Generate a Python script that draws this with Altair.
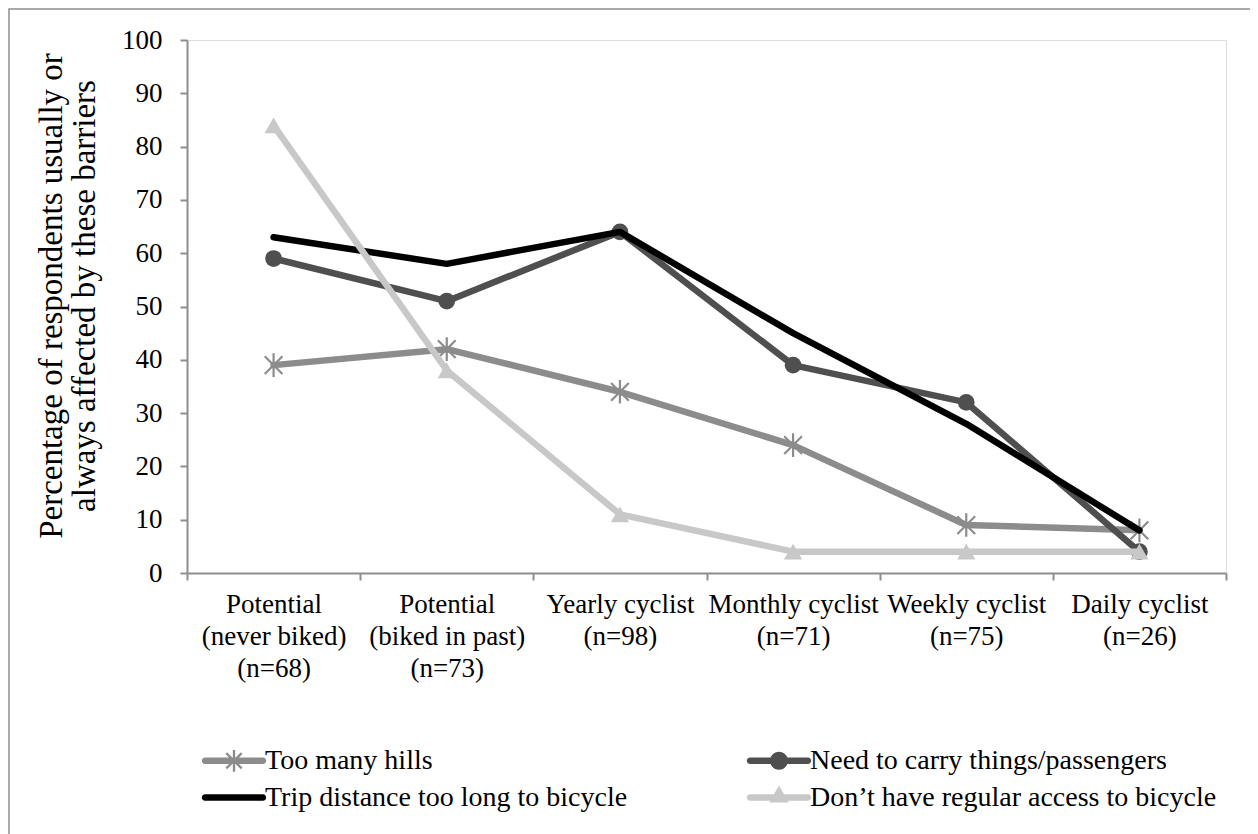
import math
import altair as alt
import pandas as pd

# ---- data -------------------------------------------------------------
categories = [
    "Potential\n(never biked)\n(n=68)",
    "Potential\n(biked in past)\n(n=73)",
    "Yearly cyclist\n(n=98)",
    "Monthly cyclist\n(n=71)",
    "Weekly cyclist\n(n=75)",
    "Daily cyclist\n(n=26)",
]
series = [
    "Too many hills",
    "Need to carry things/passengers",
    "Trip distance too long to bicycle",
    "Don\u2019t have regular access to bicycle",
]
hills = [39, 42, 34, 24, 9, 8]
carry = [59, 51, 64, 39, 32, 4]
trip = [63, 58, 64, 45, 28, 8]
access = [84, 38, 11, 4, 4, 4]
y_ticks = list(range(0, 101, 10))
y_title = ["Percentage of respondents usually or", "always affected by these barriers"]

values = [hills, carry, trip, access]
rows = []
for s, vals in zip(series, values):
    for c, v in zip(categories, vals):
        rows.append({"category": c, "series": s, "value": v})
df = pd.DataFrame(rows)

# ---- styles -----------------------------------------------------------
colors = ["#8c8c8c", "#4f4f4f", "#000000", "#c8c8c8"]
FONT = "Liberation Serif"
AXIS_GRAY = "#8e8e8e"


def poly(pts):
    return "M" + " L".join(f"{x:.3f},{y:.3f}" for x, y in pts) + " Z"


def bar(cx, cy, L, w, ang):
    c, s = math.cos(ang), math.sin(ang)
    d = (c, s)
    n = (-s, c)
    return poly([
        (cx - L * d[0] - w * n[0], cy - L * d[1] - w * n[1]),
        (cx + L * d[0] - w * n[0], cy + L * d[1] - w * n[1]),
        (cx + L * d[0] + w * n[0], cy + L * d[1] + w * n[1]),
        (cx - L * d[0] + w * n[0], cy - L * d[1] + w * n[1]),
    ])


def circ(cx, cy, r):
    return (f"M{cx + r:.3f},{cy:.3f} A{r:.3f},{r:.3f} 0 1,1 {cx - r:.3f},{cy:.3f} "
            f"A{r:.3f},{r:.3f} 0 1,1 {cx + r:.3f},{cy:.3f} Z")


def tri(cx, cy, r):
    return poly([(cx, cy - r), (cx + 0.866 * r, cy + 0.5 * r), (cx - 0.866 * r, cy + 0.5 * r)])


# legend symbols: a line segment from -1 to 3 with marker in the middle (unit = 14.5px)
LW = 0.22
base_line = bar(1, 0, 2, LW, 0) + " " + circ(-1, 0, LW) + " " + circ(3, 0, LW)
star_leg = " ".join(bar(1, 0, 0.75, 0.08, a) for a in (math.pi / 2, math.pi / 4, -math.pi / 4))
legend_paths = [
    base_line + " " + star_leg,
    base_line + " " + circ(1, 0, 0.62),
    base_line,
    base_line + " " + tri(1, -0.05, 0.78),
]

star_path = "M0,-1 L0,1 M-0.75,-0.75 L0.75,0.75 M-0.75,0.75 L0.75,-0.75"
markers = [
    dict(shape=star_path, filled=False, size=560, strokeWidth=2.2),
    dict(shape="circle", filled=True, size=280),
    None,
    dict(shape="triangle-up", filled=True, size=330),
]

W, H = 1039, 533

x_enc = alt.X(
    "category:N",
    sort=categories,
    bandPosition=0.5,
    scale=alt.Scale(type="band", paddingInner=0, paddingOuter=0),
    axis=alt.Axis(
        title=None,
        labelAngle=0,
        labelAlign="center",
        labelBaseline="top",
        labelExpr="split(datum.label, '\\n')",
        labelFont=FONT,
        labelFontSize=27,
        labelLineHeight=32,
        labelColor="black",
        labelPadding=11,
        labelLimit=400,
        tickBand="extent",
        tickSize=7,
        tickColor=AXIS_GRAY,
        tickWidth=2,
        domainColor=AXIS_GRAY,
        domainWidth=2,
    ),
)
y_enc = alt.Y(
    "value:Q",
    scale=alt.Scale(domain=[0, 100], nice=False),
    axis=alt.Axis(
        title=None,
        values=y_ticks,
        grid=False,
        labelFont=FONT,
        labelFontSize=27,
        labelColor="black",
        labelPadding=18,
        tickSize=7,
        tickColor=AXIS_GRAY,
        tickWidth=2,
        domainColor=AXIS_GRAY,
        domainWidth=2,
    ),
)

frame = alt.Chart(alt.Data(values=[{"k": 0}])).mark_rect(
    filled=False, stroke=AXIS_GRAY, strokeWidth=1.5
).encode(
    x=alt.value(-178), x2=alt.value(1066), y=alt.value(-31), y2=alt.value(820)
)

title_layer = alt.Chart(alt.Data(values=[{"t": y_title}])).mark_text(
    font=FONT,
    fontSize=33,
    angle=270,
    align="center",
    baseline="middle",
    lineHeight=33,
    color="black",
).encode(text="t:N", x=alt.value(-135), y=alt.value(256))

layers = [frame, title_layer]
for i, s in enumerate(series):
    base = alt.Chart(df).transform_filter(alt.datum.series == s)
    layers.append(
        base.mark_line(color=colors[i], strokeWidth=6.5, strokeJoin="round", strokeCap="round")
        .encode(x=x_enc, y=y_enc)
    )
    if markers[i]:
        m = markers[i]
        layers.append(base.mark_point(color=colors[i], opacity=1, **m).encode(x=x_enc, y=y_enc))

leg = alt.Legend(
    title=None,
    orient="none",
    legendX=18,
    legendY=706,
    columns=2,
    direction="horizontal",
    columnPadding=118,
    rowPadding=8,
    symbolSize=841,
    symbolStrokeWidth=0,
    labelOffset=31,
    labelFont=FONT,
    labelFontSize=28,
    labelColor="black",
    labelLimit=600,
)
legend_layer = alt.Chart(df).transform_filter("false").mark_point(filled=True, opacity=1).encode(
    x=x_enc,
    y=y_enc,
    color=alt.Color("series:N", scale=alt.Scale(domain=series, range=colors), legend=leg),
    shape=alt.Shape("series:N", scale=alt.Scale(domain=series, range=legend_paths), legend=leg),
)
layers.append(legend_layer)

chart = (
    alt.layer(*layers)
    .properties(
        width=W,
        height=H,
        padding={"left": 179, "top": 32, "right": 24, "bottom": 261},
        autosize=alt.AutoSizeParams(type="none"),
    )
    .configure_view(stroke=None)
    .configure_axis(labelFont=FONT)
    .configure_legend(labelFont=FONT, labelFontSize=28, labelColor="black")
    .configure(background="white")
)

chart.save("out.html", embed_options={"renderer": "svg", "actions": False})
